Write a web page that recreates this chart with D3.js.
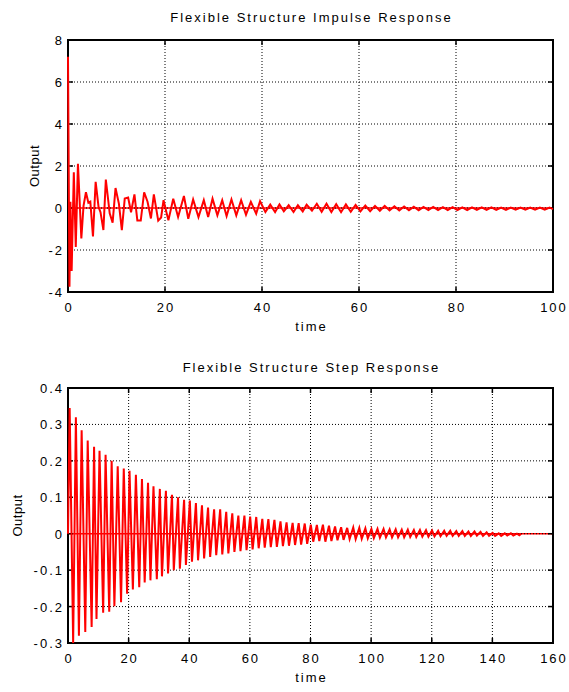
<!DOCTYPE html>
<html>
<head>
<meta charset="utf-8">
<script src="https://cdn.jsdelivr.net/npm/d3@7"></script>
<style>
  body { margin: 0; background: #fff; }
  text { font-family: "Liberation Sans", Arial, sans-serif; font-size: 13px; fill: #000; letter-spacing: 2px; }
  .grid { stroke: #000; stroke-width: 1; stroke-dasharray: 1,2; }
  .box { fill: none; stroke: #000; stroke-width: 2; }
  .tick { stroke: #000; stroke-width: 1.5; }
  .trace { fill: none; stroke: #ff0000; stroke-width: 2; stroke-linejoin: miter; }
  .zero { stroke: #ff0000; stroke-width: 1.5; }
</style>
</head>
<body>
<svg id="chart"></svg>
<script>
var width = 569,
    height = 692;

// impulse response (vertices of the trace)
var impulseTime = [0, 0.3, 0.5, 0.75, 1.2, 1.6, 2.05, 2.75, 3.2, 3.7, 4.2, 4.6, 5.15, 5.7, 6.3, 6.7, 7.3, 7.8,
  8.6, 9.2, 9.8, 10.5, 11.1, 11.7, 12.4, 13.0, 13.7, 14.3, 15.0, 15.7, 16.4, 17.1, 17.7, 18.6, 19.2, 19.7,
  20.7, 21.7, 22.7, 23.9, 24.8, 25.8, 26.9, 28.0, 28.9, 29.8, 30.8, 31.8, 32.7, 33.7, 34.7, 35.7, 36.7, 37.7,
  38.8, 39.6, 40.7, 41.7, 42.7, 43.6, 44.5, 45.5, 46.5, 47.4, 48.4, 49.2, 50.3, 51.3, 52.3, 53.3, 54.3, 55.3,
  56.3, 57.3, 58.3, 59.3, 60.3, 61.3, 62.3, 63.3, 64.3, 65.3, 66.3, 67.3, 68.3, 69.3, 70.3, 71.3, 72.3, 73.3,
  74.3, 75.3, 76.3, 77.3, 78.3, 79.3, 80.3, 81.3, 82.3, 83.3, 84.3, 85.3, 86.3, 87.3, 88.3, 89.3, 90.3, 91.3,
  92.3, 93.3, 94.3, 95.3, 96.3, 97.3, 98.3, 99.3, 100];
var impulseOutput = [7.2, -3.75, 0.3, -3.0, 1.7, -1.85, 2.1, -1.45, 0.1, 0.75, 0.25, 0.3, -1.35, 1.25, 0.05, -0.2, -1.05, 1.35,
  -0.25, -0.7, 0.95, 0.2, -1.05, 0.45, 0.5, -0.2, 0.65, -0.6, -0.6, 0.75, 0.3, -0.5, 0.65, -0.6, -0.45, 0.37,
  -0.59, 0.44, -0.43, 0.57, -0.51, 0.41, -0.43, 0.37, -0.43, 0.44, -0.35, 0.37, -0.38, 0.41, -0.35, 0.37, -0.32, 0.29,
  -0.27, 0.32, -0.19, 0.16, -0.19, 0.17, -0.16, 0.13, -0.19, 0.13, -0.16, 0.16, -0.13, 0.2, -0.18, 0.2, -0.19, 0.18,
  -0.2, 0.17, -0.18, 0.15, -0.16, 0.12, -0.15, 0.1, -0.13, 0.1, -0.12, 0.08, -0.12, 0.07, -0.11, 0.06, -0.11, 0.05,
  -0.1, 0.05, -0.1, 0.04, -0.1, 0.04, -0.1, 0.03, -0.1, 0.03, -0.09, 0.03, -0.09, 0.03, -0.09, 0.02, -0.09, 0.02,
  -0.08, 0.02, -0.08, 0.02, -0.08, 0.02, -0.08, 0.02, -0.05];

// step response (peaks and troughs)
var stepTime = [0, 0.55, 1.7, 2.6, 3.6, 4.5, 5.7, 6.5, 7.8, 8.6, 9.4, 10.4, 11.6, 12.4, 13.6, 14.4, 15.3, 16.4,
  17.5, 18.4, 19.5, 20.3, 21.4, 22.4, 23.5, 24.4, 25.3, 26.4, 27.2, 28.2, 29.3, 30.3, 31.0, 32.3, 33.0, 34.3,
  34.9, 36.3, 36.9, 38.3, 38.9, 40.2, 40.9, 42.2, 42.9, 44.2, 44.9, 46.2, 46.9, 48.2, 48.9, 50.2, 50.9, 52.2,
  52.9, 54.2, 54.9, 56.2, 56.9, 58.2, 58.9, 60.1, 60.9, 62.1, 62.9, 64.1, 64.9, 66.1, 66.9, 68.1, 68.9, 70.1,
  70.9, 72.1, 72.9, 74.1, 74.9, 76.1, 76.9, 78.1, 78.9, 80.1, 80.9, 82.1, 82.9, 84.1, 84.9, 86.1, 86.9, 88.1,
  88.9, 90.1, 90.9, 92.1, 92.9, 94.1, 94.9, 96.1, 96.9, 98.1, 98.9, 100.1, 100.9, 102.1, 102.9, 104.1, 104.9,
  106.1, 106.9, 108.1, 108.9, 110.1, 110.9, 112.1, 112.9, 114.1, 114.9, 116.1, 116.9, 118.1, 118.9, 120.1,
  120.9, 122.1, 122.9, 124.1, 124.9, 126.1, 126.9, 128.1, 128.9, 130.1, 130.9, 132.1, 132.9, 134.1, 134.9,
  136.1, 136.9, 138.1, 138.9, 140.1, 140.9, 142.1, 142.9, 144.1, 144.9, 146.1, 146.9, 148.1, 148.9, 149.5];
var stepOutput = [0, 0.345, -0.3, 0.32, -0.28, 0.284, -0.27, 0.256, -0.256, 0.239, -0.234, 0.228, -0.217, 0.217, -0.214, 0.2, -0.199, 0.185,
  -0.188, 0.179, -0.165, 0.173, -0.153, 0.162, -0.147, 0.15, -0.134, 0.14, -0.128, 0.13, -0.125, 0.123, -0.117, 0.118, -0.109, 0.107,
  -0.1, 0.1, -0.096, 0.093, -0.086, 0.091, -0.077, 0.084, -0.073, 0.078, -0.068, 0.072, -0.064, 0.067, -0.059, 0.067, -0.057, 0.06,
  -0.054, 0.056, -0.05, 0.05, -0.048, 0.05, -0.045, 0.047, -0.043, 0.046, -0.04, 0.041, -0.038, 0.04, -0.037, 0.038, -0.036, 0.034,
  -0.034, 0.031, -0.033, 0.03, -0.031, 0.029, -0.03, 0.028, -0.028, 0.025, -0.022, 0.024, -0.02, 0.025, -0.022, 0.022, -0.02, 0.02,
  -0.018, 0.018, -0.017, 0.016, -0.015, 0.017, -0.015, 0.016, -0.014, 0.015, -0.013, 0.013, -0.012, 0.013, -0.011, 0.013, -0.01,
  0.012, -0.01, 0.012, -0.01, 0.011, -0.01, 0.011, -0.009, 0.01, -0.009, 0.01, -0.008, 0.01, -0.008, 0.009,
  -0.007, 0.008, -0.007, 0.008, -0.006, 0.008, -0.006, 0.007, -0.006, 0.007, -0.006, 0.006, -0.006, 0.006, -0.005,
  0.005, -0.006, 0.004, -0.006, 0.002, -0.006, 0.001, -0.006, 0.001, -0.005, 0.001, -0.005, 0, -0.004, 0];

var impulseXTicks = [0, 20, 40, 60, 80, 100],
    impulseYTicks = [-4, -2, 0, 2, 4, 6, 8],
    stepXTicks = [0, 20, 40, 60, 80, 100, 120, 140, 160],
    stepYTicks = [-0.3, -0.2, -0.1, 0, 0.1, 0.2, 0.3, 0.4];

var svg = d3.select("#chart")
            .attr("width", width)
            .attr("height", height);

var drawPanel = function(p) {
  var x = d3.scaleLinear().domain(p.xDomain).range([p.left, p.right]);
  var y = d3.scaleLinear().domain(p.yDomain).range([p.bottom, p.top]);
  var g = svg.append("g");

  // zero line under everything
  g.append("line")
   .classed("zero", true)
   .attr("x1", x(0)).attr("x2", x(p.xDomain[1]))
   .attr("y1", y(0)).attr("y2", y(0));

  g.selectAll("line.gx")
   .data(p.xTicks.slice(1, -1))
   .enter().append("line")
     .attr("class", "grid gx")
     .attr("x1", function(d) { return x(d); })
     .attr("x2", function(d) { return x(d); })
     .attr("y1", p.top).attr("y2", p.bottom);

  g.selectAll("line.gy")
   .data(p.yTicks.slice(1, -1))
   .enter().append("line")
     .attr("class", "grid gy")
     .attr("y1", function(d) { return y(d); })
     .attr("y2", function(d) { return y(d); })
     .attr("x1", p.left).attr("x2", p.right);

  // inward ticks on all four sides
  var tl = 5;
  p.xTicks.forEach(function(d) {
    g.append("line").classed("tick", true)
     .attr("x1", x(d)).attr("x2", x(d)).attr("y1", p.bottom).attr("y2", p.bottom - tl);
    g.append("line").classed("tick", true)
     .attr("x1", x(d)).attr("x2", x(d)).attr("y1", p.top).attr("y2", p.top + tl);
  });
  p.yTicks.forEach(function(d) {
    g.append("line").classed("tick", true)
     .attr("y1", y(d)).attr("y2", y(d)).attr("x1", p.left).attr("x2", p.left + tl);
    g.append("line").classed("tick", true)
     .attr("y1", y(d)).attr("y2", y(d)).attr("x1", p.right).attr("x2", p.right - tl);
  });

  g.append("rect")
   .classed("box", true)
   .attr("x", p.left).attr("y", p.top)
   .attr("width", p.right - p.left).attr("height", p.bottom - p.top);

  // trace goes over the frame, as in the original
  var pts = p.time.map(function(t, i) { return [t, p.values[i]]; });
  var line = d3.line()
               .x(function(d) { return x(d[0]); })
               .y(function(d) { return y(d[1]); });
  g.append("path")
   .datum(pts)
   .classed("trace", true)
   .attr("d", line);

  g.selectAll("text.xl")
   .data(p.xTicks)
   .enter().append("text")
     .attr("class", "xl")
     .attr("x", function(d) { return x(d) + 1; })
     .attr("y", p.bottom + 20)
     .attr("text-anchor", "middle")
     .text(function(d) { return d; });

  g.selectAll("text.yl")
   .data(p.yTicks)
   .enter().append("text")
     .attr("class", "yl")
     .attr("x", p.left - 4)
     .attr("y", function(d) { return y(d) + 5; })
     .attr("text-anchor", "end")
     .text(function(d) { return d; });

  g.append("text")
   .attr("x", (p.left + p.right) / 2 + 1)
   .attr("y", p.titleY)
   .attr("text-anchor", "middle")
   .text(p.title);

  g.append("text")
   .attr("x", (p.left + p.right) / 2 + 1)
   .attr("y", p.bottom + 39)
   .attr("text-anchor", "middle")
   .text("time");

  g.append("text")
   .attr("transform", "translate(" + p.ylabelX + "," + (p.top + p.bottom) / 2 + ") rotate(-90)")
   .attr("text-anchor", "middle")
   .style("letter-spacing", "0.5px")
   .text("Output");
};

drawPanel({
  title: "Flexible Structure Impulse Response",
  time: impulseTime, values: impulseOutput,
  xDomain: [0, 100], yDomain: [-4, 8],
  xTicks: impulseXTicks, yTicks: impulseYTicks,
  left: 68, right: 553, top: 40, bottom: 292, ylabelX: 39, titleY: 22
});

drawPanel({
  title: "Flexible Structure Step Response",
  time: stepTime, values: stepOutput,
  xDomain: [0, 160], yDomain: [-0.3, 0.4],
  xTicks: stepXTicks, yTicks: stepYTicks,
  left: 68, right: 553, top: 388, bottom: 643, ylabelX: 22, titleY: 372
});
</script>
</body>
</html>
